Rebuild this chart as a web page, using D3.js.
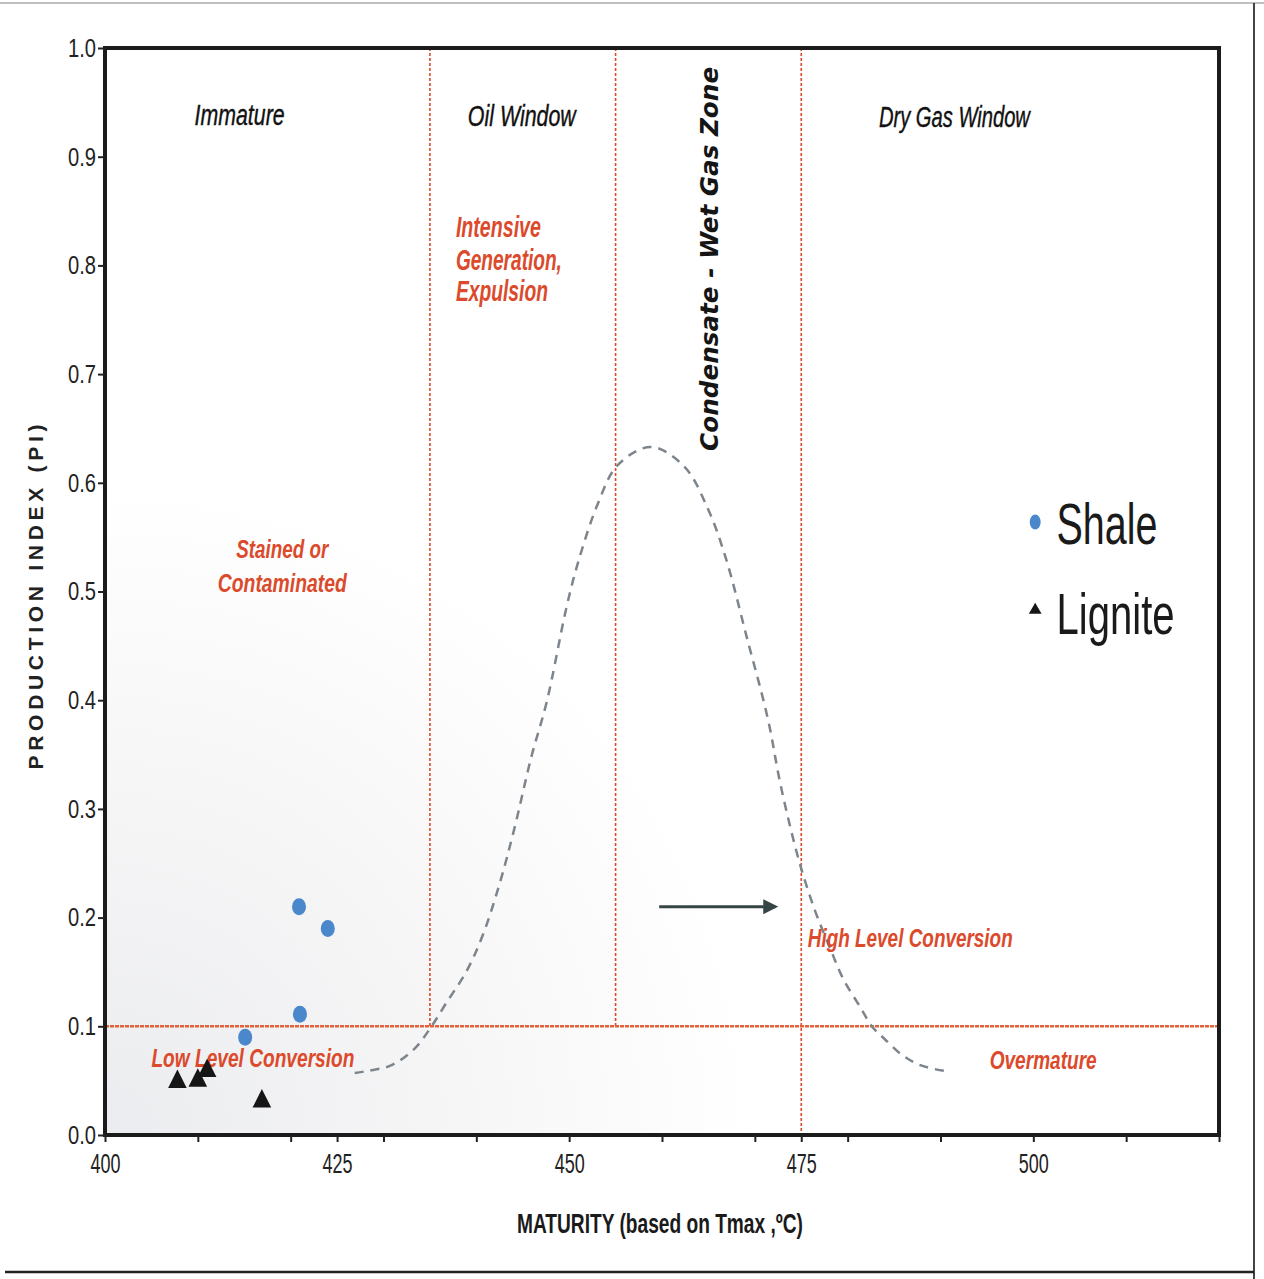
<!DOCTYPE html>
<html>
<head>
<meta charset="utf-8">
<script src="https://cdn.jsdelivr.net/npm/d3@7"></script>
<style>
  body { margin: 0; background: #fff; }
  text { font-family: "Liberation Sans Narrow", "Liberation Sans", Arial, sans-serif; }
</style>
</head>
<body>
<svg id="chart"></svg>
<script>
// data (Tmax in degC, production index)
const shaleTmax = [420.9, 424.0, 421.0, 415.1];
const shalePI = [0.210, 0.190, 0.111, 0.090];
const ligniteTmax = [407.8, 410.0, 411.0, 416.9];
const lignitePI = [0.049, 0.050, 0.059, 0.031];

// generation curve (dashed bell)
const curveTmax = [426.9, 428.3, 430.8, 433.3, 435.1, 436.8, 438.9, 440.7, 442.5, 444.1, 445.9, 447.6,
  449.7, 451.0, 453.1, 455.2, 458.8, 462.4, 465.0, 466.9, 469.1, 471.4, 472.8, 474.8, 476.5, 478.1,
  479.5, 481.4, 482.6, 483.9, 485.8, 487.9, 490.4];
const curvePI = [0.057, 0.059, 0.064, 0.079, 0.099, 0.122, 0.150, 0.184, 0.231, 0.282, 0.347, 0.399,
  0.485, 0.528, 0.581, 0.616, 0.633, 0.615, 0.575, 0.530, 0.459, 0.383, 0.321, 0.251, 0.206, 0.172,
  0.144, 0.117, 0.100, 0.089, 0.074, 0.064, 0.059];

// zone boundaries
const zoneTmax = [435, 455, 475];
const zoneFloorPI = [0.1, 0.1, 0];
const conversionPI = 0.1;

const xTicks = [400, 410, 420, 425, 430, 440, 450, 460, 470, 475, 480, 490, 500, 510, 520];
const xTickLabels = [400, 425, 450, 475, 500];
const yTicks = [0, 0.1, 0.2, 0.3, 0.4, 0.5, 0.6, 0.7, 0.8, 0.9, 1.0];

const width = 1264;
const height = 1279;
const plotLeft = 105, plotRight = 1219, plotTop = 48, plotBottom = 1135;
const red = "#dc4a2c";

const svg = d3.select("#chart")
    .attr("width", width)
    .attr("height", height);

const x = d3.scaleLinear().domain([400, 520]).range([plotLeft, plotRight]);
const y = d3.scaleLinear().domain([0, 1]).range([plotBottom, plotTop]);

// page frame lines of the scan
svg.append("line").attr("x1", 0).attr("x2", width).attr("y1", 3).attr("y2", 3)
    .attr("stroke", "#aaa").attr("stroke-width", 1.5);
svg.append("line").attr("x1", 1254).attr("x2", 1254).attr("y1", 3).attr("y2", height)
    .attr("stroke", "#444").attr("stroke-width", 2);
svg.append("line").attr("x1", 5).attr("x2", 1254).attr("y1", 1272).attr("y2", 1272)
    .attr("stroke", "#222").attr("stroke-width", 2.5);

// faint grey shading in the lower left of the plot
const defs = svg.append("defs");
const grad = defs.append("radialGradient").attr("id", "shade")
    .attr("gradientUnits", "userSpaceOnUse")
    .attr("cx", plotLeft).attr("cy", plotBottom).attr("r", 650);
grad.append("stop").attr("offset", "0%").attr("stop-color", "#ebecef");
grad.append("stop").attr("offset", "50%").attr("stop-color", "#f5f5f6");
grad.append("stop").attr("offset", "100%").attr("stop-color", "#ffffff");
defs.append("marker").attr("id", "arrow")
    .attr("viewBox", "0 0 10 10").attr("refX", 8).attr("refY", 5)
    .attr("markerWidth", 5).attr("markerHeight", 5).attr("orient", "auto")
    .append("path").attr("d", "M0,0 L10,5 L0,10 z").attr("fill", "#354545");

svg.append("rect")
    .attr("x", plotLeft).attr("y", plotTop)
    .attr("width", plotRight - plotLeft).attr("height", plotBottom - plotTop)
    .attr("fill", "url(#shade)");

// zone lines
svg.selectAll(".zone")
    .data(zoneTmax)
    .enter()
    .append("line")
    .attr("class", "zone")
    .attr("x1", d => x(d)).attr("x2", d => x(d))
    .attr("y1", y(1)).attr("y2", (d, i) => y(zoneFloorPI[i]))
    .attr("stroke", red).attr("stroke-width", 1.6)
    .attr("stroke-dasharray", "3,2");

svg.append("line")
    .attr("x1", x(400)).attr("x2", x(520))
    .attr("y1", y(conversionPI)).attr("y2", y(conversionPI))
    .attr("stroke", "#e3623a").attr("stroke-width", 2.5)
    .attr("stroke-dasharray", "4,1");

// generation curve
const curve = curveTmax.map((t, i) => [t, curvePI[i]]);
svg.append("path")
    .datum(curve)
    .attr("fill", "none")
    .attr("stroke", "#7d848c")
    .attr("stroke-width", 2.5)
    .attr("stroke-dasharray", "9,7")
    .attr("d", d3.line().x(d => x(d[0])).y(d => y(d[1])).curve(d3.curveCatmullRom));

// arrow
svg.append("line")
    .attr("x1", x(459.7)).attr("x2", x(472.2))
    .attr("y1", y(0.21)).attr("y2", y(0.21))
    .attr("stroke", "#354545").attr("stroke-width", 3)
    .attr("marker-end", "url(#arrow)");

// plot frame
svg.append("rect")
    .attr("x", plotLeft).attr("y", plotTop)
    .attr("width", plotRight - plotLeft).attr("height", plotBottom - plotTop)
    .attr("fill", "none").attr("stroke", "#1b1b1b").attr("stroke-width", 4);

// axes
const xAxis = d3.axisBottom(x)
    .tickValues(xTicks)
    .tickSize(7)
    .tickFormat(d => xTickLabels.includes(d) ? d : "");
const gx = svg.append("g")
    .attr("transform", `translate(0, ${plotBottom})`)
    .call(xAxis);
gx.select(".domain").remove();
gx.selectAll(".tick line").attr("stroke", "#222").attr("stroke-width", 2);
gx.selectAll(".tick text")
    .attr("y", 38)
    .attr("dy", 0)
    .attr("font-size", 27)
    .attr("fill", "#222")
    .attr("textLength", d => xTickLabels.includes(d) ? 30 : null)
    .attr("lengthAdjust", "spacingAndGlyphs");

const yAxis = d3.axisLeft(y)
    .tickValues(yTicks)
    .tickSize(7)
    .tickFormat(d3.format(".1f"));
const gy = svg.append("g")
    .attr("transform", `translate(${plotLeft}, 0)`)
    .call(yAxis);
gy.select(".domain").remove();
gy.selectAll(".tick line").attr("stroke", "#222").attr("stroke-width", 2);
gy.selectAll(".tick text")
    .attr("x", -9)
    .attr("font-size", 26)
    .attr("fill", "#222")
    .attr("textLength", 28)
    .attr("lengthAdjust", "spacingAndGlyphs");

// axis titles
svg.append("text")
    .attr("x", 660).attr("y", 1233)
    .attr("text-anchor", "middle")
    .attr("font-size", 28).attr("font-weight", "bold").attr("fill", "#1a1a1a")
    .attr("textLength", 286).attr("lengthAdjust", "spacingAndGlyphs")
    .text("MATURITY (based on Tmax ,ºC)");

svg.append("text")
    .attr("transform", "translate(43, 597) rotate(-90)")
    .attr("text-anchor", "middle")
    .attr("font-size", 21).attr("font-weight", "bold").attr("fill", "#222")
    .style("font-family", "'Liberation Sans', Arial, sans-serif")
    .attr("textLength", 345).attr("lengthAdjust", "spacing")
    .text("PRODUCTION INDEX (PI)");

// zone labels
const blackLabels = [
    { t: "Immature", tmax: 414.5, pi: 0.929, w: 90 },
    { t: "Oil  Window", tmax: 444.9, pi: 0.928, w: 108 },
    { t: "Dry Gas Window", tmax: 491.5, pi: 0.927, w: 151 }
];
svg.selectAll(".zlabel")
    .data(blackLabels)
    .enter()
    .append("text")
    .attr("class", "zlabel")
    .attr("x", d => x(d.tmax)).attr("y", d => y(d.pi))
    .attr("text-anchor", "middle")
    .attr("font-size", 29).attr("font-style", "italic").attr("fill", "#111")
    .attr("stroke", "#111").attr("stroke-width", 0.4)
    .attr("textLength", d => d.w).attr("lengthAdjust", "spacingAndGlyphs")
    .text(d => d.t);

svg.append("text")
    .attr("transform", `translate(${x(466.0)}, ${y(0.806)}) rotate(-90)`)
    .attr("text-anchor", "middle")
    .attr("font-size", 24).attr("font-style", "italic").attr("font-weight", "bold")
    .attr("fill", "#151515")
    .style("font-family", "'DejaVu Sans', Verdana, sans-serif")
    .attr("textLength", 384).attr("lengthAdjust", "spacingAndGlyphs")
    .text("Condensate - Wet Gas Zone");

const redLabels = [
    { t: "Intensive", tmax: 437.8, pi: 0.826, w: 85, a: "start", fs: 29 },
    { t: "Generation,", tmax: 437.8, pi: 0.796, w: 106, a: "start", fs: 29 },
    { t: "Expulsion", tmax: 437.8, pi: 0.767, w: 92, a: "start", fs: 29 },
    { t: "Stained or", tmax: 419.1, pi: 0.531, w: 92, a: "middle", fs: 26 },
    { t: "Contaminated", tmax: 419.1, pi: 0.500, w: 129, a: "middle", fs: 26 },
    { t: "Low Level Conversion", tmax: 405.0, pi: 0.063, w: 203, a: "start", fs: 26 },
    { t: "High Level Conversion", tmax: 475.7, pi: 0.173, w: 205, a: "start", fs: 26 },
    { t: "Overmature", tmax: 495.3, pi: 0.061, w: 107, a: "start", fs: 26 }
];
svg.selectAll(".rlabel")
    .data(redLabels)
    .enter()
    .append("text")
    .attr("class", "rlabel")
    .attr("x", d => x(d.tmax)).attr("y", d => y(d.pi))
    .attr("text-anchor", d => d.a)
    .attr("font-size", d => d.fs).attr("font-style", "italic").attr("font-weight", "bold")
    .attr("fill", red)
    .attr("textLength", d => d.w).attr("lengthAdjust", "spacingAndGlyphs")
    .text(d => d.t);

// samples
svg.selectAll(".shale")
    .data(shaleTmax)
    .enter()
    .append("ellipse")
    .attr("class", "shale")
    .attr("cx", d => x(d)).attr("cy", (d, i) => y(shalePI[i]))
    .attr("rx", 7).attr("ry", 8.5)
    .attr("fill", "#4a87cb");

const tri = d3.symbol().type(d3.symbolTriangle).size(150);
svg.selectAll(".lignite")
    .data(ligniteTmax)
    .enter()
    .append("path")
    .attr("class", "lignite")
    .attr("transform", (d, i) => `translate(${x(d)}, ${y(lignitePI[i])}) scale(1, 1.15)`)
    .attr("d", tri)
    .attr("fill", "#161616");

// legend
const legend = svg.append("g");
legend.append("ellipse")
    .attr("cx", x(500.2)).attr("cy", y(0.564))
    .attr("rx", 5.5).attr("ry", 7.5).attr("fill", "#4a87cb");
legend.append("path")
    .attr("transform", `translate(${x(500.2)}, ${y(0.483)})`)
    .attr("d", d3.symbol().type(d3.symbolTriangle).size(70))
    .attr("fill", "#161616");
legend.append("text")
    .attr("x", x(502.5)).attr("y", y(0.544))
    .attr("font-size", 58).attr("fill", "#1a1a1a")
    .attr("textLength", 101).attr("lengthAdjust", "spacingAndGlyphs")
    .text("Shale");
legend.append("text")
    .attr("x", x(502.5)).attr("y", y(0.461))
    .attr("font-size", 58).attr("fill", "#1a1a1a")
    .attr("textLength", 118).attr("lengthAdjust", "spacingAndGlyphs")
    .text("Lignite");
</script>
</body>
</html>
